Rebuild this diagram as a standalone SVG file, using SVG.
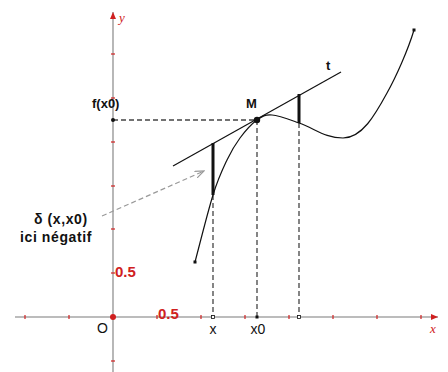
<svg xmlns="http://www.w3.org/2000/svg" width="448" height="372" viewBox="0 0 448 372">
<style>
.axis{stroke:#a6a6a6;stroke-width:1.6;fill:none}
.tick{stroke:#d02020;stroke-width:1.2}
.dash{stroke:#444;stroke-width:1.3;stroke-dasharray:5 3;fill:none}
.lbl{font-family:"Liberation Sans",Arial,sans-serif;font-size:13px;font-weight:bold;fill:#111}
.note{font-family:"Liberation Sans",Arial,sans-serif;font-size:14px;font-weight:bold;fill:#111;letter-spacing:0.6px}
.red{font-family:"Liberation Sans",Arial,sans-serif;font-size:15px;font-weight:bold;fill:#d02020}
.ax{font-family:"Liberation Serif",serif;font-size:13px;font-style:italic;fill:#d02020}
.reg{font-family:"Liberation Sans",Arial,sans-serif;font-size:14px;fill:#111}
</style>
<defs>
<marker id="ah" markerWidth="8" markerHeight="8" refX="7" refY="4" orient="auto" markerUnits="userSpaceOnUse">
<path d="M0,1 L7,4 L0,7 Z" fill="#d02020"/>
</marker>
<marker id="ga" markerWidth="10" markerHeight="8" refX="9" refY="4" orient="auto" markerUnits="userSpaceOnUse">
<path d="M0,0.5 L9,4 L0,7.5" fill="none" stroke="#999" stroke-width="1.2"/>
</marker>
</defs>
<g id="axes">
<line class="axis" x1="113" y1="372" x2="113" y2="12" marker-end="url(#ah)"/>
<line class="axis" x1="15" y1="317" x2="438" y2="317" marker-end="url(#ah)"/>
<g class="tick">
<line x1="111" y1="54" x2="115" y2="54"/><line x1="111" y1="98" x2="115" y2="98"/>
<line x1="111" y1="142" x2="115" y2="142"/><line x1="111" y1="186" x2="115" y2="186"/>
<line x1="111" y1="229" x2="115" y2="229"/><line x1="111" y1="273" x2="115" y2="273"/>
<line x1="111" y1="361" x2="115" y2="361"/>
<line x1="25" y1="315" x2="25" y2="319"/><line x1="69" y1="315" x2="69" y2="319"/>
<line x1="157" y1="315" x2="157" y2="319"/><line x1="201" y1="315" x2="201" y2="319"/>
<line x1="245" y1="315" x2="245" y2="319"/><line x1="289" y1="315" x2="289" y2="319"/>
<line x1="333" y1="315" x2="333" y2="319"/><line x1="377" y1="315" x2="377" y2="319"/>
<line x1="421" y1="315" x2="421" y2="319"/>
</g>
<circle cx="113" cy="317" r="3" fill="#d02020"/>
<text class="ax" x="119" y="22">y</text>
<text class="ax" x="430" y="333">x</text>
<text class="red" x="115" y="277">0.5</text>
<text class="red" x="158" y="319">0.5</text>
<text class="reg" x="97" y="333">O</text>
</g>
<g id="connectors">
<line class="dash" x1="113" y1="120" x2="257" y2="120"/>
<line class="dash" x1="257" y1="120" x2="257" y2="317"/>
<line class="dash" x1="213" y1="195" x2="213" y2="317"/>
<line class="dash" x1="299" y1="123" x2="299" y2="317"/>
<line x1="102" y1="216" x2="204" y2="171" stroke="#999" stroke-width="1.2" stroke-dasharray="5 3" marker-end="url(#ga)"/>
</g>
<g id="curve">
<path d="M195,262 C198,250.8 207.7,212 213,195 C218.3,178 222.5,169.5 227,160 C231.5,150.5 235,144.7 240,138 C245,131.3 251.7,123.8 257,120 C262.3,116.2 265,114.5 272,115 C279,115.5 291,120.2 299,123 C315,128.6 325,138 343,138 C362,138 375,115 387,93 C396,77 408,50 414,30" fill="none" stroke="#111" stroke-width="1.2"/>
<rect x="193.5" y="260.5" width="3" height="3" fill="#111"/>
<rect x="412.5" y="28.5" width="3" height="3" fill="#111"/>
</g>
<g id="tangent">
<line x1="173" y1="166" x2="341" y2="72" stroke="#111" stroke-width="1.2"/>
<text class="lbl" x="326" y="70">t</text>
</g>
<g id="M">
<circle cx="257" cy="120" r="3.2" fill="#111"/>
<text class="lbl" x="246" y="108">M</text>
</g>
<g id="deltas">
<line x1="213" y1="143" x2="213" y2="195" stroke="#111" stroke-width="3"/>
<line x1="299" y1="94" x2="299" y2="123" stroke="#111" stroke-width="3"/>
</g>
<g id="points">
<circle cx="113" cy="120" r="2" fill="#111"/>
<rect x="255.5" y="315.5" width="3" height="3" fill="#111"/>
<rect x="211.5" y="315.5" width="3" height="3" fill="#fff" stroke="#111" stroke-width="0.8"/>
<rect x="297.5" y="315.5" width="3" height="3" fill="#fff" stroke="#111" stroke-width="0.8"/>
</g>
<g id="labels">
<text class="lbl" x="92" y="108">f(x0)</text>
<text class="reg" x="213" y="334" text-anchor="middle">x</text>
<text class="reg" x="258" y="334" text-anchor="middle">x0</text>
<text class="note" x="34" y="224">δ (x,x0)</text>
<text class="note" x="20" y="242">ici négatif</text>
</g>
</svg>
